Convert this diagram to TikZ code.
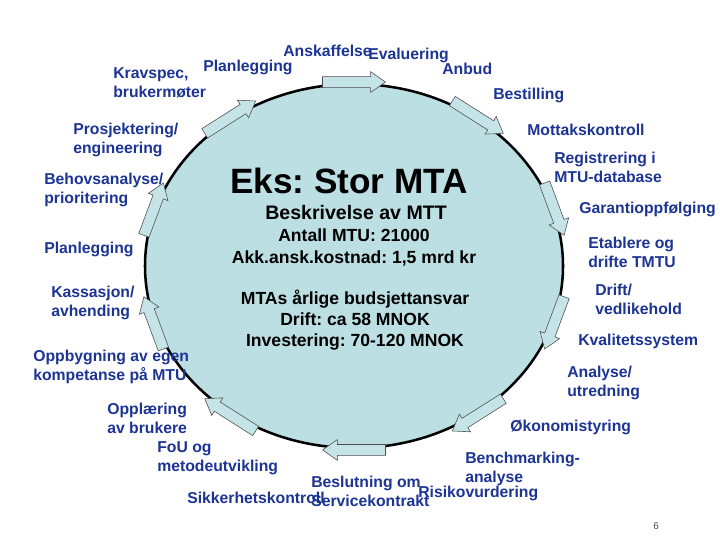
\documentclass[tikz,border=0pt]{standalone}
\usepackage{fontspec}
\setmainfont{Liberation Sans}
\usetikzlibrary{calc}
\frenchspacing
\definecolor{lblue}{RGB}{28,52,148}
\definecolor{ringfill}{RGB}{187,223,227}
\tikzset{
  lbl/.style={anchor=west, align=left, inner sep=0pt, text=lblue,
    font=\bfseries\fontsize{11.2}{13.6}\selectfont},
  mid/.style={align=center, inner sep=0pt,
    font=\bfseries\fontsize{12.5}{15.2}\selectfont},
  cyclearrow/.style={fill=ringfill!85!white, draw=black!70, line width=0.4pt}
}
\begin{document}
\begin{tikzpicture}[x=0.025cm, y=-0.025cm]
  \useasboundingbox[fill=white] (0,0) rectangle (720,540);
  \draw[fill=ringfill, line width=1.8pt] (354,266) ellipse [x radius=209, y radius=182];
  \begin{scope}[shift={(354,266)}]
    \foreach \a in {-126,-90,-54,-18,18,54,90,126,162,198} {
      \coordinate (s) at (\a-8.5:213 and 186);
      \coordinate (e) at (\a+8.5:213 and 186);
      \coordinate (b) at ($(e)!10.6pt!(s)$);
      \filldraw[cyclearrow] ($(s)!3.9pt!90:(e)$) -- ($(b)!3.9pt!90:(e)$)
        -- ($(b)!7.4pt!90:(e)$) -- (e) -- ($(b)!7.4pt!-90:(e)$)
        -- ($(b)!3.9pt!-90:(e)$) -- ($(s)!3.9pt!-90:(e)$) -- cycle;
    }
  \end{scope}
  \node[lbl] (anskaffelse) at (283,51) {Anskaffelse};
  \node[lbl] (evaluering) at (368,55) {Evaluering};
  \node[lbl] (anbud) at (442,69) {Anbud};
  \node[lbl] (plantop) at (203,67) {Planlegging};
  \node[lbl] (kravspec) at (113,83) {Kravspec,\\brukermøter};
  \node[lbl] (bestilling) at (493,95) {Bestilling};
  \node[lbl] (mottak) at (527,130) {Mottakskontroll};
  \node[lbl] (registrering) at (554,167) {Registrering i\\MTU-database};
  \node[lbl] (garanti) at (579,209) {Garantioppfølging};
  \node[lbl] (etablere) at (588,252) {Etablere og\\drifte TMTU};
  \node[lbl] (drift) at (595,299) {Drift/\\vedlikehold};
  \node[lbl] (kvalitet) at (578,341) {Kvalitetssystem};
  \node[lbl] (analyse) at (567,383) {Analyse/\\utredning};
  \node[lbl] (okonomi) at (510,427) {Økonomistyring};
  \node[lbl] (benchmark) at (465,469) {Benchmarking-\\analyse};
  \node[lbl] (sikkerhet) at (187,498) {Sikkerhetskontroll};
  \node[lbl] (beslutning) at (311,491) {Beslutning om\\Servicekontrakt};
  \node[lbl] (risiko) at (418,493) {Risikovurdering};
  \node[lbl] (fou) at (157,458) {FoU og\\metodeutvikling};
  \node[lbl] (opplaering) at (107,418) {Opplæring\\av brukere};
  \node[lbl] (oppbygning) at (33,367) {Oppbygning av egen\\kompetanse på MTU};
  \node[lbl] (kassasjon) at (51,303) {Kassasjon/\\avhending};
  \node[lbl] (planleft) at (44,249) {Planlegging};
  \node[lbl] (behov) at (44,190) {Behovsanalyse/\\prioritering};
  \node[lbl] (prosjekt) at (73,140) {Prosjektering/\\engineering};
  \node[inner sep=0pt, font=\bfseries\fontsize{25}{30}\selectfont] (tittel) at (349,181) {Eks: Stor MTA};
  \node[inner sep=0pt, font=\bfseries\fontsize{13.9}{16}\selectfont] (beskrivelse) at (356,213) {Beskrivelse av MTT};
  \node[mid] (antall) at (354,247.5) {Antall MTU: 21000\\Akk.ansk.kostnad: 1,5 mrd kr};
  \node[mid] (budsjett) at (355,320) {MTAs årlige budsjettansvar\\Drift: ca 58 MNOK\\Investering: 70-120 MNOK};
  \node[inner sep=0pt, text=black!70, font=\fontsize{7}{8}\selectfont] (side) at (656,526) {6};
\end{tikzpicture}
\end{document}
